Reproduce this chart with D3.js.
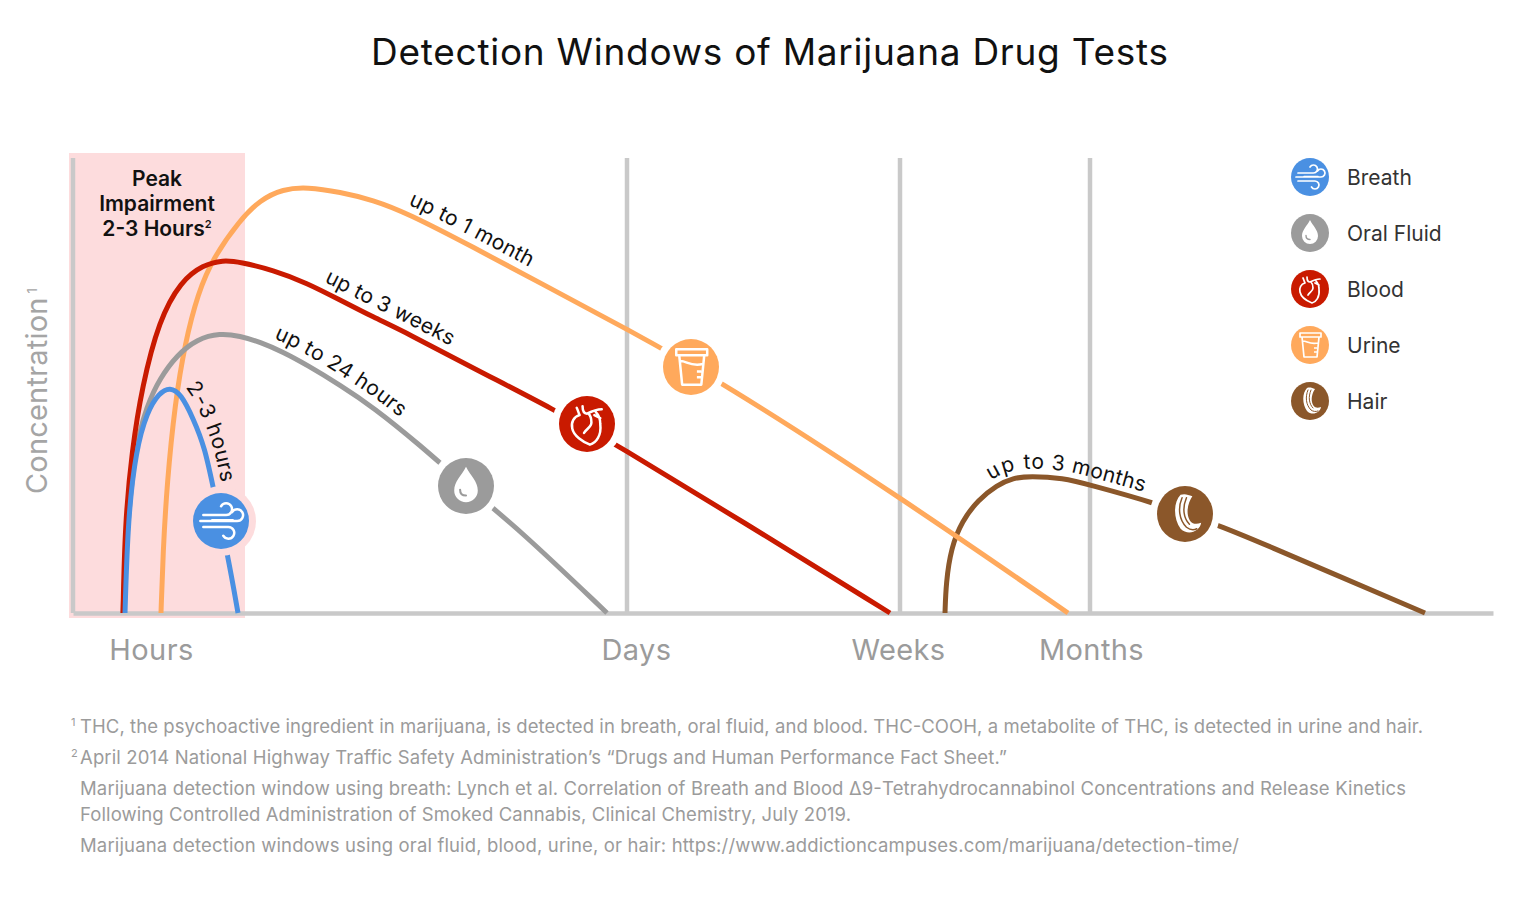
<!DOCTYPE html>
<html>
<head>
<meta charset="utf-8">
<script src="https://cdn.jsdelivr.net/npm/d3@7"></script>
<style>
    html, body { margin: 0; background: #fff; }
    text { font-family: Inter, "Open Sans", sans-serif; }
</style>
</head>
<body>
<div id="content"></div>
<script>
'use strict';

// curves, [time, concentration] in arbitrary units
var hair = [[872,0],[873,30],[878,65],[889,92],[905,113],[924,128],[940,135],[957,137],[990,135],[1017,128],[1079,111],[1145,88],[1177,75],[1352,0]];
var urine = [[88,0],[90,60],[94,130],[102,210],[112,270],[125,320],[140,355],[167,393],[187,413],[210,424],[234,426],[267,421],[300,413],[334,400],[400,366],[467,330],[554,284],[649,231],[827,116],[995,0]];
var oral = [[50,0],[52,53],[61,163],[74,208],[87,235],[104,258],[124,274],[147,280],[167,277],[187,271],[210,261],[234,248],[267,228],[300,206],[347,168],[393,127],[447,83],[534,0]];
var blood = [[50,0],[52,90],[59,163],[69,226],[86,293],[108,332],[130,348],[150,353],[167,351],[200,343],[234,330],[267,313],[300,296],[334,280],[400,245],[482,203],[544,168],[667,93],[817,0]];
var breath = [[52,0],[55,96],[63,163],[74,201],[86,220],[97,226],[108,219],[120,195],[132,165],[140,126],[155,57],[165,0]];

var gridTimes = [0, 554, 827, 1017];
var tickTimes = [78, 563, 825, 1018];
var tickLabels = ['Hours', 'Days', 'Weeks', 'Months'];
var peakWindow = [-4, 172];

var legendNames = ['Breath', 'Oral Fluid', 'Blood', 'Urine', 'Hair'];
var legendKeys = ['breath', 'oral', 'blood', 'urine', 'hair'];

var drawOrder = ['hair', 'urine', 'oral', 'blood', 'breath'];
var curves = { hair: hair, urine: urine, oral: oral, blood: blood, breath: breath };
var colors = { breath: '#4a90e2', oral: '#9b9b9b', blood: '#c91a00', urine: '#ffa95c', hair: '#8b572a' };
var windowLabels = { breath: '2-3 hours', oral: 'up to 24 hours', blood: 'up to 3 weeks', urine: 'up to 1 month', hair: 'up to 3 months' };
var labelTimes = { breath: 127, oral: 261, blood: 310, urine: 392, hair: 995 };
var iconPoints = { breath: [148, 92], oral: [393, 127], blood: [514, 189], urine: [618, 246], hair: [1112, 99] };

var footnotes = [
    { mark: '1', text: 'THC, the psychoactive ingredient in marijuana, is detected in breath, oral fluid, and blood. THC-COOH, a metabolite of THC, is detected in urine and hair.', width: 1343, y: 733 },
    { mark: '2', text: 'April 2014 National Highway Traffic Safety Administration\u2019s \u201cDrugs and Human Performance Fact Sheet.\u201d', width: 927, y: 764 },
    { text: 'Marijuana detection window using breath: Lynch et al. Correlation of Breath and Blood \u03949-Tetrahydrocannabinol Concentrations and Release Kinetics', width: 1326, y: 795 },
    { text: 'Following Controlled Administration of Smoked Cannabis, Clinical Chemistry, July 2019.', width: 771, y: 821 },
    { text: 'Marijuana detection windows using oral fluid, blood, urine, or hair: https://www.addictioncampuses.com/marijuana/detection-time/', width: 1159, y: 852 }
];

// white glyphs drawn around 0,0 inside a circle of radius 19
var Icons = {
    breath: function (g, c) {
        g.append('path')
            .attr('fill', 'none').attr('stroke', '#fff').attr('stroke-width', 1.7).attr('stroke-linecap', 'round')
            .attr('d', 'M-12,-4H3.5a4,4 0 1 0 -3.5,-6 M-14,0H11a4,4 0 1 0 -3.5,-6 M-12,4H5a4,4 0 1 1 -3.5,6 M-6,-0.5H8');
    },
    oral: function (g, c) {
        g.append('path').attr('fill', '#fff')
            .attr('d', 'M0,-13C3,-7 8,-3 8,3A8,8 0 0 1 -8,3C-8,-3 -3,-7 0,-13Z');
        g.append('path')
            .attr('fill', 'none').attr('stroke', c).attr('stroke-width', 1.4).attr('stroke-linecap', 'round')
            .attr('d', 'M-4,2.5C-4,5 -2.5,6.5 0,6.5');
    },
    blood: function (g, c) {
        g.append('path')
            .attr('fill', 'none').attr('stroke', '#fff').attr('stroke-width', 1.7).attr('stroke-linecap', 'round').attr('stroke-linejoin', 'round')
            .attr('d', 'M-7,-11C-6,-9 -6,-8 -5,-6C-9,-5 -11,-1 -10,3C-9,8 -3,12 2,14C6,13 10,8 9,0C9,-3 8,-6 6,-8 M-3,-12C-3,-9 -2,-7 0,-7C2,-8 6,-10 10,-10 M1,-7C3,-5 3,-3 3,-1C3,2 0,3 -2,6 M5,-6L9,-4');
    },
    urine: function (g, c) {
        g.append('path')
            .attr('fill', 'none').attr('stroke', '#fff').attr('stroke-width', 1.7).attr('stroke-linejoin', 'round')
            .attr('d', 'M-10,-12H11V-8H-10Z M-8,-8L-6,12H7L9,-8 M-7,-4C-3,-4 0,0 8,-2 M7,3H4 M7,7H4');
    },
    hair: function (g, c) {
        g.append('path').attr('fill', '#fff')
            .attr('d', 'M-3,-13C-8,-8 -8,3 -3,10C2,15 10,12 11,6C5,8 3,5 2,1C1,-4 3,-9 5,-12C2,-13 0,-14 -3,-13Z');
        g.append('path')
            .attr('fill', 'none').attr('stroke', c).attr('stroke-width', 1).attr('stroke-linecap', 'round')
            .attr('d', 'M-2,-11C-5,-4 -4,4 1,9C3,10.5 6,11 8,10 M1,-11C-2,-4 -1,3 3,7');
    }
};

function run() {
    var svg = d3.select('#content')
        .append('svg')
        .attr('width', 1536)
        .attr('height', 911)
        .style('display', 'block');

    var x = d3.scaleLinear().domain([0, 1420]).range([73, 1493]);
    var y = d3.scaleLinear().domain([0, 455]).range([613, 158]);

    svg.append('rect')
        .attr('x', x(peakWindow[0]))
        .attr('y', 153)
        .attr('width', x(peakWindow[1]) - x(peakWindow[0]))
        .attr('height', 465)
        .attr('fill', '#fddcdd');

    svg.append('text')
        .attr('x', 769.5).attr('y', 65)
        .attr('text-anchor', 'middle')
        .attr('textLength', 797)
        .style('font-size', '37px')
        .attr('fill', '#111')
        .text('Detection Windows of Marijuana Drug Tests');

    svg.selectAll('.grid')
        .data(gridTimes)
        .enter()
        .append('line')
        .attr('class', 'grid')
        .attr('x1', function (d) { return x(d); })
        .attr('x2', function (d) { return x(d); })
        .attr('y1', y(455))
        .attr('y2', y(0))
        .attr('stroke', '#c9c9c9')
        .attr('stroke-width', 4.5);

    var axis = svg.append('g')
        .attr('transform', 'translate(0 ' + y(0) + ')')
        .call(d3.axisBottom(x)
            .tickValues(tickTimes)
            .tickFormat(function (d, i) { return tickLabels[i]; })
            .tickSize(0)
            .tickPadding(26));
    axis.select('.domain').attr('stroke', '#c9c9c9').attr('stroke-width', 4.5);
    axis.selectAll('text')
        .attr('fill', '#9b9b9b')
        .style('font-family', 'Inter')
        .style('font-size', '29px')
        .style('letter-spacing', '0.4px')
        .attr('dy', '0.71em');

    var yLabel = svg.append('text')
        .attr('transform', 'translate(47 391) rotate(-90)')
        .attr('text-anchor', 'middle')
        .attr('fill', '#a5a5a5')
        .style('font-size', '29px')
        .style('letter-spacing', '0.2px');
    yLabel.append('tspan').text('Concentration');
    yLabel.append('tspan').attr('dx', 4).attr('dy', -10).style('font-size', '13px').text('1');

    var peak = svg.append('g')
        .attr('text-anchor', 'middle')
        .attr('fill', '#111')
        .style('font-size', '21px')
        .style('font-weight', 600);
    peak.append('text').attr('x', 157).attr('y', 186).text('Peak');
    peak.append('text').attr('x', 157).attr('y', 211).text('Impairment');
    var hours = peak.append('text').attr('x', 157).attr('y', 236);
    hours.append('tspan').text('2-3 Hours');
    hours.append('tspan').attr('dy', -8).style('font-size', '11px').text('2');

    var line = d3.line()
        .x(function (d) { return x(d[0]); })
        .y(function (d) { return y(d[1]); })
        .curve(d3.curveBasis);

    var layer = svg.selectAll('.layer')
        .data(drawOrder)
        .enter()
        .append('g')
        .attr('class', 'layer');

    layer.append('path')
        .attr('id', function (d) { return 'curve-' + d; })
        .attr('fill', 'none')
        .attr('stroke', function (d) { return colors[d]; })
        .attr('stroke-width', 5)
        .attr('d', function (d) { return line(curves[d]); });

    // window labels ride along the curve, centred on the given time
    layer.append('text')
        .attr('dy', function (d) { return d === 'hair' ? -8 : -9; })
        .attr('text-anchor', 'middle')
        .attr('fill', '#111')
        .style('font-size', '21px')
        .style('letter-spacing', '0.2px')
        .append('textPath')
        .attr('href', function (d) { return '#curve-' + d; })
        .attr('startOffset', function (d) {
            var node = document.getElementById('curve-' + d);
            var total = node.getTotalLength();
            var target = x(labelTimes[d]);
            var len = total * 0.1;
            while (len < total && node.getPointAtLength(len).x < target) {
                len += 1;
            }
            return len;
        })
        .text(function (d) { return windowLabels[d]; });

    function addIcon(selection, key, radius, halo, haloColor) {
        if (halo) {
            selection.append('circle').attr('r', halo).attr('fill', haloColor);
        }
        selection.append('circle').attr('r', radius).attr('fill', colors[key]);
        var glyph = selection.append('g').attr('transform', 'scale(' + radius / 19 + ')');
        Icons[key](glyph, colors[key]);
    }

    layer.each(function (d) {
        var p = iconPoints[d];
        var icon = d3.select(this).append('g')
            .attr('transform', 'translate(' + x(p[0]) + ' ' + y(p[1]) + ')');
        addIcon(icon, d, 28, 35, d === 'breath' ? '#fddcdd' : '#fff');
    });

    var legendY = d3.scalePoint().domain(legendKeys).range([177, 401]);
    var legend = svg.selectAll('.legend')
        .data(legendKeys)
        .enter()
        .append('g')
        .attr('class', 'legend')
        .attr('transform', function (d) { return 'translate(1310 ' + legendY(d) + ')'; });
    legend.each(function (d) { addIcon(d3.select(this), d, 19); });
    legend.append('text')
        .attr('x', 37)
        .attr('y', 8)
        .attr('fill', '#333')
        .style('font-size', '21px')
        .text(function (d, i) { return legendNames[i]; });

    var notes = svg.selectAll('.note')
        .data(footnotes)
        .enter()
        .append('g')
        .attr('class', 'note')
        .attr('fill', '#9b9b9b');
    notes.append('text')
        .attr('x', 80)
        .attr('y', function (d) { return d.y; })
        .attr('textLength', function (d) { return d.width; })
        .style('font-size', '18.5px')
        .text(function (d) { return d.text; });
    notes.filter(function (d) { return d.mark; })
        .append('text')
        .attr('x', 71)
        .attr('y', function (d) { return d.y - 7; })
        .style('font-size', '11px')
        .text(function (d) { return d.mark; });
}

document.addEventListener('DOMContentLoaded', run);
</script>
</body>
</html>
